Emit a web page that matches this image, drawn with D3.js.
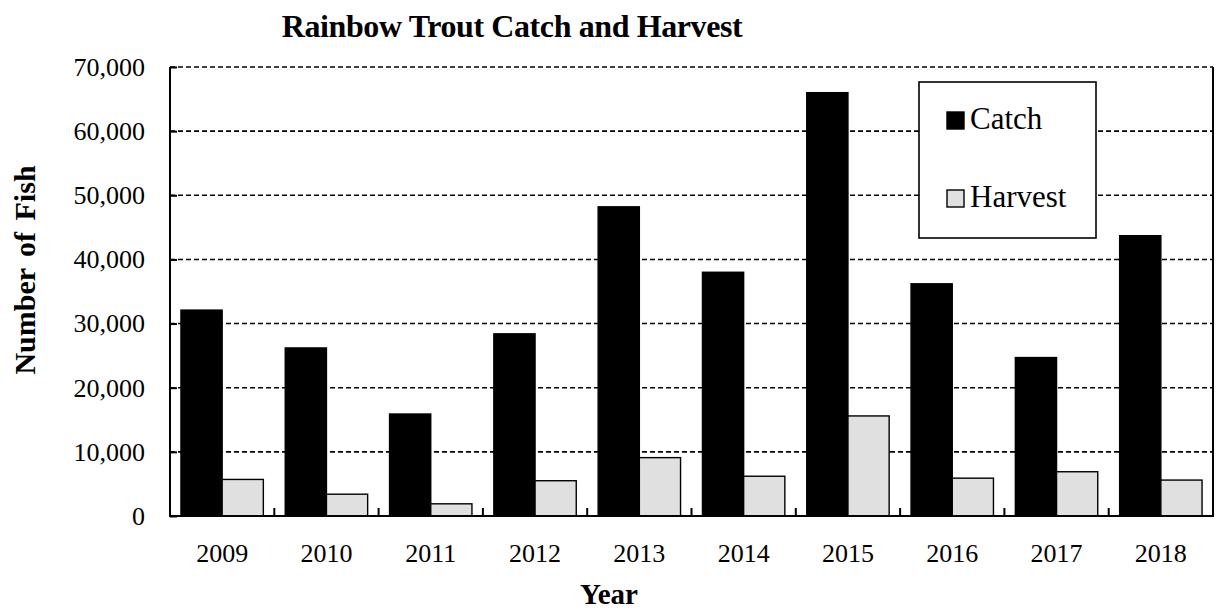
<!DOCTYPE html>
<html>
<head>
<meta charset="utf-8">
<script src="https://cdn.jsdelivr.net/npm/d3@7"></script>
<style>
  html, body { margin: 0; padding: 0; background: #fff; }
  svg { display: block; }
  svg text { font-family: "Liberation Serif", "Times New Roman", serif; fill: #000; }
</style>
</head>
<body>
<svg id="chart" width="1219" height="609"></svg>
<script>
// Rainbow trout catch and harvest by year
const years = ["2009", "2010", "2011", "2012", "2013", "2014", "2015", "2016", "2017", "2018"];
const catchValues = [32100, 26200, 15900, 28400, 48200, 38000, 66000, 36200, 24700, 43700];
const harvestValues = [5700, 3400, 1900, 5500, 9100, 6200, 15600, 5900, 6900, 5600];
const seriesNames = ["Catch", "Harvest"];
const seriesColors = ["#000000", "#e0e0e0"];
const yTicks = [0, 10000, 20000, 30000, 40000, 50000, 60000, 70000];

const serif = "Liberation Serif, Times New Roman, serif";
const width = 1219, height = 609;
const margin = { top: 67, right: 6, bottom: 93, left: 170 };
const innerW = width - margin.left - margin.right;
const innerH = height - margin.top - margin.bottom;

const svg = d3.select("#chart");
const g = svg.append("g").attr("transform", `translate(${margin.left},${margin.top})`);

const x0 = d3.scaleBand().domain(years).range([0, innerW]).paddingInner(0.21).paddingOuter(0.105);
const x1 = d3.scaleBand().domain(seriesNames).range([0, x0.bandwidth()]);
const y = d3.scaleLinear().domain([0, 70000]).range([innerH, 0]);

// dashed horizontal gridlines
g.append("g")
  .selectAll("line")
  .data(yTicks.filter(d => d > 0))
  .join("line")
  .attr("x1", 0).attr("x2", innerW)
  .attr("y1", d => y(d)).attr("y2", d => y(d))
  .attr("stroke", "#000").attr("stroke-width", 1.6)
  .attr("stroke-dasharray", "5,3");

// bars
const rows = years.map((yr, i) => ({ year: yr, values: [catchValues[i], harvestValues[i]] }));
const groups = g.append("g").selectAll("g")
  .data(rows).join("g")
  .attr("transform", d => `translate(${x0(d.year)},0)`);
groups.selectAll("rect")
  .data(d => d.values.map((v, k) => ({ key: seriesNames[k], value: v, k })))
  .join("rect")
  .attr("x", d => x1(d.key))
  .attr("y", d => y(d.value))
  .attr("width", x1.bandwidth())
  .attr("height", d => y(0) - y(d.value))
  .attr("fill", d => seriesColors[d.k])
  .attr("stroke", "#000").attr("stroke-width", 1.4);

// plot frame: left, bottom and right edges
g.append("path")
  .attr("d", `M0,0V${innerH}H${innerW}V0`)
  .attr("fill", "none").attr("stroke", "#000").attr("stroke-width", 2);

// y axis with inward ticks
const yAxis = d3.axisLeft(y).tickValues(yTicks).tickSize(-7).tickPadding(25)
  .tickFormat(d3.format(","));
const ya = g.append("g").call(yAxis);
ya.attr("font-family", serif);
ya.select(".domain").remove();
ya.selectAll(".tick line").attr("stroke", "#000").attr("stroke-width", 2);
ya.selectAll("text")
  .attr("font-family", serif)
  .attr("font-size", 26).attr("fill", "#000");

// x axis: category separators as inward ticks
const sepPos = years.slice(1).map((yr) => x0(yr) - x0.step() * x0.paddingInner() / 2);
g.append("g").selectAll("line")
  .data(sepPos).join("line")
  .attr("x1", d => d).attr("x2", d => d)
  .attr("y1", innerH).attr("y2", innerH - 8)
  .attr("stroke", "#000").attr("stroke-width", 2);

const xAxis = d3.axisBottom(x0).tickSize(0).tickPadding(28);
const xa = g.append("g").attr("transform", `translate(0,${innerH})`).call(xAxis);
xa.attr("font-family", serif);
xa.select(".domain").remove();
xa.selectAll("text")
  .attr("font-family", serif)
  .attr("font-size", 26).attr("fill", "#000");

// title
svg.append("text")
  .attr("x", 512).attr("y", 37)
  .attr("text-anchor", "middle")
  .attr("font-family", serif)
  .attr("font-size", 32).attr("font-weight", "bold")
  .attr("letter-spacing", -0.4)
  .text("Rainbow Trout Catch and Harvest");

// axis titles
svg.append("text")
  .attr("x", 609).attr("y", 604)
  .attr("text-anchor", "middle")
  .attr("font-family", serif)
  .attr("font-size", 29).attr("font-weight", "bold")
  .text("Year");

svg.append("text")
  .attr("transform", `translate(35,270) rotate(-90)`)
  .attr("text-anchor", "middle")
  .attr("font-family", serif)
  .attr("font-size", 30).attr("font-weight", "bold")
  .attr("word-spacing", 4)
  .text("Number of Fish");

// legend
const legend = svg.append("g").attr("transform", "translate(919,82)");
legend.append("rect")
  .attr("width", 177).attr("height", 156)
  .attr("fill", "#fff").attr("stroke", "#000").attr("stroke-width", 1.6);
const items = legend.selectAll("g.item")
  .data(seriesNames).join("g").attr("class", "item")
  .attr("transform", (d, i) => `translate(28,${30 + i * 78})`);
items.append("rect")
  .attr("width", 17).attr("height", 17)
  .attr("fill", (d, i) => seriesColors[i])
  .attr("stroke", "#000").attr("stroke-width", 1.4);
items.append("text")
  .attr("x", 23).attr("y", 17)
  .attr("font-family", serif)
  .attr("font-size", 31)
  .text(d => d);
</script>
</body>
</html>
